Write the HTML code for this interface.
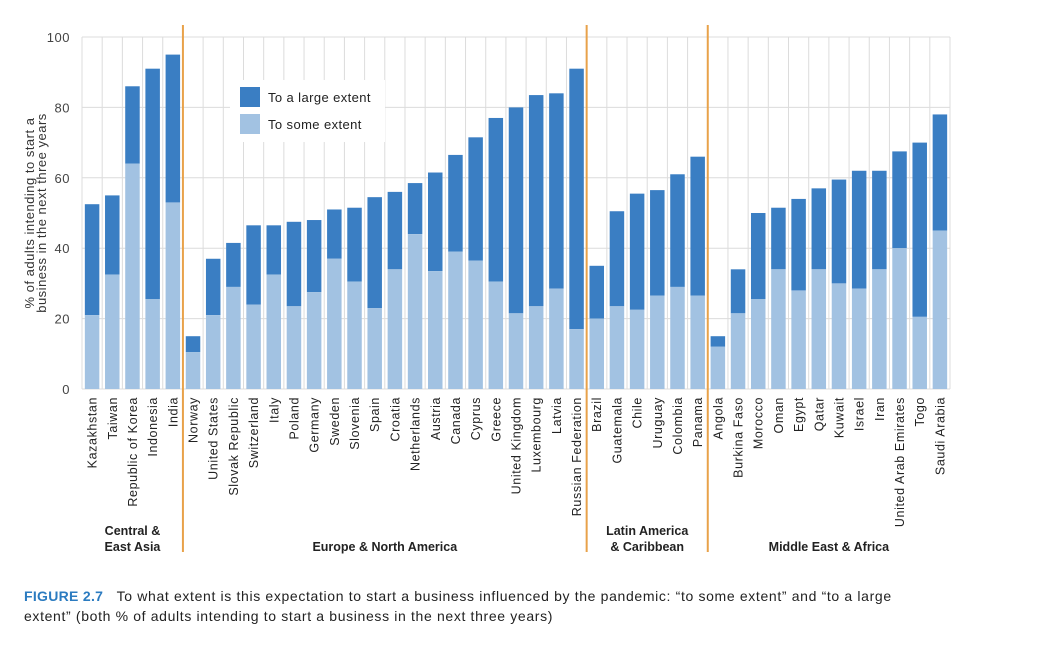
<!DOCTYPE html>
<html><head><meta charset="utf-8"><style>
body{margin:0;background:#fff;font-family:"Liberation Sans",sans-serif;}
#wrap{position:relative;width:1053px;height:652px;overflow:hidden;}
.cap{position:absolute;left:24px;top:586px;font-size:14px;letter-spacing:0.65px;color:#222;line-height:20px;width:895px;}
.cap b{color:#2b7bc0;letter-spacing:0.3px;}
</style></head><body>
<div id="wrap">
<svg id="chart" width="1053" height="580" style="position:absolute;left:0;top:0"></svg>
<div class="cap"><b>FIGURE 2.7</b>&nbsp;&nbsp; To what extent is this expectation to start a business influenced by the pandemic: “to some extent” and “to a large extent” (both % of adults intending to start a business in the next three years)</div>
</div>
<script>
const countries=["Kazakhstan","Taiwan","Republic of Korea","Indonesia","India","Norway","United States","Slovak Republic","Switzerland","Italy","Poland","Germany","Sweden","Slovenia","Spain","Croatia","Netherlands","Austria","Canada","Cyprus","Greece","United Kingdom","Luxembourg","Latvia","Russian Federation","Brazil","Guatemala","Chile","Uruguay","Colombia","Panama","Angola","Burkina Faso","Morocco","Oman","Egypt","Qatar","Kuwait","Israel","Iran","United Arab Emirates","Togo","Saudi Arabia"];
const totalValues=[52.5,55,86,91,95,15,37,41.5,46.5,46.5,47.5,48,51,51.5,54.5,56,58.5,61.5,66.5,71.5,77,80,83.5,84,91,35,50.5,55.5,56.5,61,66,15,34,50,51.5,54,57,59.5,62,62,67.5,70,78];
const someValues=[21,32.5,64,25.5,53,10.5,21,29,24,32.5,23.5,27.5,37,30.5,23,34,44,33.5,39,36.5,30.5,21.5,23.5,28.5,17,20,23.5,22.5,26.5,29,26.5,12,21.5,25.5,34,28,34,30,28.5,34,40,20.5,45];
const yTicks=[0,20,40,60,80,100];
const groupNames=[["Central &","East Asia"],["Europe & North America"],["Latin America","& Caribbean"],["Middle East & Africa"]];
const groupStarts=[0,5,25,31,43];
const NS="http://www.w3.org/2000/svg";
const svg=document.getElementById('chart');
const x0=82,x1=950,yTop=37,yBot=389;
const step=(x1-x0)/countries.length;
const y=v=>yBot-(v/100)*(yBot-yTop);
const xc=i=>x0+step*(i+0.5);
function mk(t,a){const e=document.createElementNS(NS,t);for(const k in a)e.setAttribute(k,a[k]);svg.appendChild(e);return e;}
yTicks.forEach(t=>{const l=mk('line',{x1:x0,x2:x1,y1:y(t),y2:y(t),stroke:'#dcdcdc','stroke-width':1});


const tx=mk('text',{x:70,y:y(t)+5,'text-anchor':'end','font-size':13,'letter-spacing':0.5,fill:'#444'});tx.textContent=t;

});
for(let i=0;i<=countries.length;i++){const l=mk('line',{x1:x0+step*i,x2:x0+step*i,y1:yTop,y2:yBot,stroke:'#dcdcdc','stroke-width':1});

}
countries.forEach((c,i)=>{
const bw=14.5,bx=xc(i)-bw/2;
const r1=mk('rect',{x:bx,y:y(totalValues[i]),width:bw,height:y(someValues[i])-y(totalValues[i]),fill:'#3a7ec3'});


const r2=mk('rect',{x:bx,y:y(someValues[i]),width:bw,height:yBot-y(someValues[i]),fill:'#a2c2e2'});


const t=mk('text',{x:0,y:0,'text-anchor':'end','font-size':12.5,'letter-spacing':0.6,fill:'#222',transform:`translate(${xc(i)+4.5},397) rotate(-90)`});t.textContent=c;


});
[1,2,3].forEach(g=>{const xx=x0+step*groupStarts[g];const l=mk('line',{x1:xx,x2:xx,y1:25,y2:552,stroke:'#e8a24a','stroke-width':2});

});
groupNames.forEach((g,k)=>{const cx=(x0+step*groupStarts[k]+x0+step*groupStarts[k+1])/2;
g.forEach((ln,j)=>{const t=mk('text',{x:cx,y:(g.length==2?535:551)+j*16,'text-anchor':'middle','font-size':12.5,'font-weight':'bold',fill:'#222'});t.textContent=ln;

});});
['% of adults intending to start a','business in the next three years'].forEach((s,j)=>{const t=mk('text',{x:0,y:0,'text-anchor':'middle','font-size':13,'letter-spacing':0.5,fill:'#333',transform:`translate(${34+j*12},213) rotate(-90)`});t.textContent=s;

});
const lb=mk('rect',{x:230,y:80,width:155,height:62,fill:'#fff'});


[['To a large extent','#3a7ec3',87],['To some extent','#a2c2e2',114]].forEach(([s,c,yy])=>{
const r=mk('rect',{x:240,y:yy,width:20,height:20,fill:c});


const t=mk('text',{x:268,y:yy+15,'font-size':13,'letter-spacing':0.4,fill:'#222'});t.textContent=s;

});
</script>
</body></html>
